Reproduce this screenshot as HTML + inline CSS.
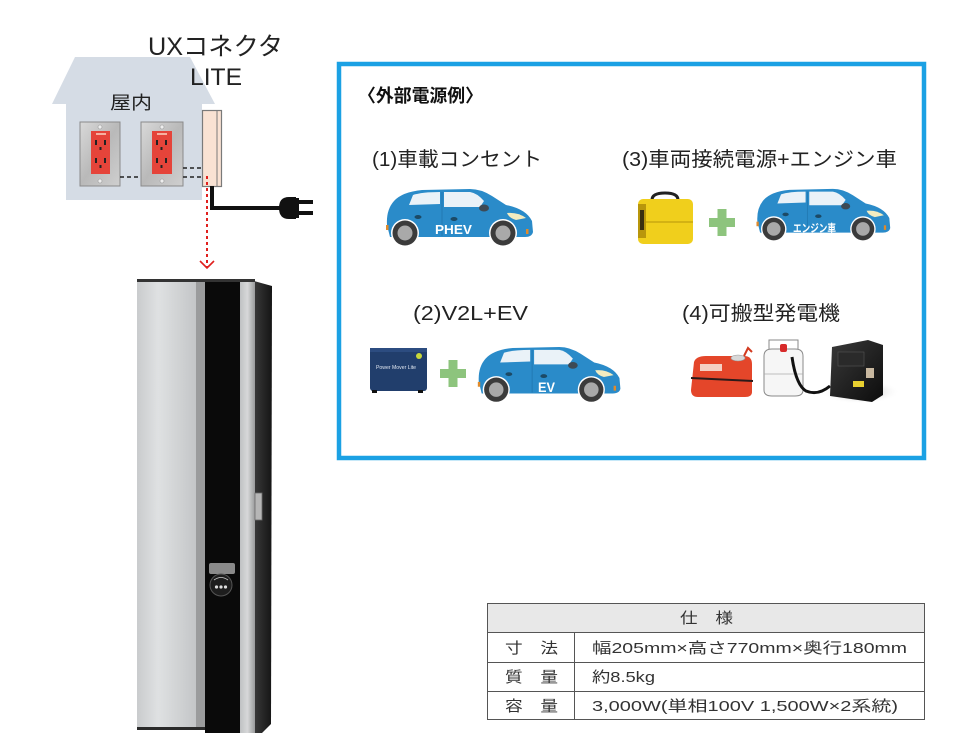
<!DOCTYPE html>
<html><head><meta charset="utf-8"><style>
html,body{margin:0;padding:0;background:#fff;}
svg{display:block;}
text{font-family:"Liberation Sans","Noto Sans CJK JP",sans-serif;}
</style></head><body>
<svg width="980" height="756" viewBox="0 0 980 756" xmlns="http://www.w3.org/2000/svg">
<defs>
<linearGradient id="plate" x1="0" y1="0" x2="1" y2="1"><stop offset="0" stop-color="#d9d9d9"/><stop offset="0.5" stop-color="#b9b9b9"/><stop offset="1" stop-color="#cfcfcf"/></linearGradient>
<linearGradient id="lp" x1="0" y1="0" x2="1" y2="0"><stop offset="0" stop-color="#c9cbcd"/><stop offset="0.35" stop-color="#dfe1e2"/><stop offset="1" stop-color="#c3c5c7"/></linearGradient>
<linearGradient id="rs" x1="0" y1="0" x2="1" y2="0"><stop offset="0" stop-color="#bfc1c3"/><stop offset="0.5" stop-color="#d7d8d9"/><stop offset="1" stop-color="#9a9b9c"/></linearGradient>
<linearGradient id="ds" x1="0" y1="0" x2="1" y2="0"><stop offset="0" stop-color="#3a3a3a"/><stop offset="1" stop-color="#151515"/></linearGradient>
<linearGradient id="gen" x1="0" y1="0" x2="1" y2="1"><stop offset="0" stop-color="#3a3a3a"/><stop offset="1" stop-color="#0c0c0c"/></linearGradient>
<radialGradient id="shadow"><stop offset="0" stop-color="#9a9a9a"/><stop offset="1" stop-color="#ffffff" stop-opacity="0"/></radialGradient>
</defs>

<!-- House -->
<polygon points="75,57 190,57 215,104 202,104 202,200 66,200 66,104 52,104" fill="#d5dce5"/>
<text x="110" y="109" font-size="18" fill="#222" textLength="42" lengthAdjust="spacingAndGlyphs">屋内</text>

<!-- outlet plates -->
<g>
<rect x="80" y="122" width="40" height="64" fill="url(#plate)" stroke="#8a8a8a" stroke-width="1"/>
<circle cx="100" cy="127" r="2" fill="#eee" stroke="#999" stroke-width="0.6"/>
<circle cx="100" cy="181" r="2" fill="#eee" stroke="#999" stroke-width="0.6"/>
<rect x="91" y="131" width="19" height="43" fill="#e5443a"/>
<rect x="95" y="140" width="2" height="5" fill="#222"/><rect x="104" y="140" width="2" height="5" fill="#222"/><rect x="99.5" y="147" width="2" height="3" fill="#222"/>
<rect x="95" y="158" width="2" height="5" fill="#222"/><rect x="104" y="158" width="2" height="5" fill="#222"/><rect x="99.5" y="165" width="2" height="3" fill="#222"/>
<rect x="96" y="133" width="10" height="2" fill="#f7b0a0"/>
</g>
<g>
<rect x="141" y="122" width="42" height="64" fill="url(#plate)" stroke="#8a8a8a" stroke-width="1"/>
<circle cx="162" cy="127" r="2" fill="#eee" stroke="#999" stroke-width="0.6"/>
<circle cx="162" cy="181" r="2" fill="#eee" stroke="#999" stroke-width="0.6"/>
<rect x="152" y="131" width="20" height="43" fill="#e5443a"/>
<rect x="156" y="140" width="2" height="5" fill="#222"/><rect x="165" y="140" width="2" height="5" fill="#222"/><rect x="160.5" y="147" width="2" height="3" fill="#222"/>
<rect x="156" y="158" width="2" height="5" fill="#222"/><rect x="165" y="158" width="2" height="5" fill="#222"/><rect x="160.5" y="165" width="2" height="3" fill="#222"/>
<rect x="157" y="133" width="10" height="2" fill="#f7b0a0"/>
</g>
<!-- dashed wiring -->
<line x1="120" y1="177" x2="141" y2="177" stroke="#222" stroke-width="1.6" stroke-dasharray="4,3"/>
<line x1="183" y1="168" x2="202" y2="168" stroke="#222" stroke-width="1.6" stroke-dasharray="4,3"/>
<line x1="183" y1="177" x2="202" y2="177" stroke="#222" stroke-width="1.6" stroke-dasharray="4,3"/>

<!-- connector box -->
<rect x="202.5" y="110.5" width="19" height="76" fill="#f9e2d3" stroke="#7a7a7a" stroke-width="1.2"/>
<line x1="217" y1="111" x2="217" y2="186" stroke="#7a7a7a" stroke-width="1"/>

<!-- cable & plug -->
<path d="M212 186 L212 208 L284 208" fill="none" stroke="#111" stroke-width="4"/>
<path d="M296 197 L289 197 Q279 197 279 208 Q279 219 289 219 L296 219 Z" fill="#111"/>
<rect x="295" y="198" width="4" height="20" fill="#111"/>
<rect x="298" y="200" width="15" height="4" fill="#111"/>
<rect x="298" y="211" width="15" height="4" fill="#111"/>

<!-- labels -->
<text x="148" y="55" font-size="25" fill="#222" textLength="135" lengthAdjust="spacingAndGlyphs">UXコネクタ</text>
<text x="190" y="85" font-size="24" fill="#222" textLength="52" lengthAdjust="spacingAndGlyphs">LITE</text>

<!-- red dotted arrow -->
<line x1="207" y1="176" x2="207" y2="268" stroke="#e0201e" stroke-width="2" stroke-dasharray="3,3"/>
<polyline points="200,261 207,268 214,261" fill="none" stroke="#e0201e" stroke-width="1.6"/>

<!-- Cabinet -->
<polygon points="254,281 272,286 271,724 262,733 254,733" fill="url(#ds)"/>
<rect x="137" y="282" width="60" height="446" fill="url(#lp)"/>
<rect x="196" y="282" width="9" height="448" fill="#9b9c9d"/>
<rect x="205" y="282" width="35" height="451" fill="#0a0a0a"/>
<rect x="240" y="282" width="15" height="451" fill="url(#rs)"/>
<rect x="137" y="279" width="118" height="3" fill="#333"/>
<rect x="137" y="727" width="68" height="3" fill="#2a2a2a"/>
<rect x="255" y="493" width="7" height="27" fill="#b6b6b6" stroke="#6a6a6a" stroke-width="0.8"/>
<!-- lock -->
<rect x="209" y="563" width="26" height="11" rx="2" fill="#8a8a8a"/>
<circle cx="221" cy="585" r="11" fill="#1e1e1e" stroke="#555" stroke-width="1"/>
<circle cx="216.5" cy="587" r="1.6" fill="#ddd"/><circle cx="221" cy="587" r="1.6" fill="#ddd"/><circle cx="225.5" cy="587" r="1.6" fill="#ddd"/>
<path d="M214 580 Q221 575 228 580" fill="none" stroke="#ccc" stroke-width="0.8"/>

<!-- Blue box -->
<rect x="339" y="64" width="585" height="394" fill="#fff" stroke="#1ba1e4" stroke-width="4.5"/>
<text x="358" y="102" font-size="18" font-weight="bold" fill="#111" textLength="125" lengthAdjust="spacingAndGlyphs">〈外部電源例〉</text>
<text x="372" y="166" font-size="20" fill="#222" textLength="170" lengthAdjust="spacingAndGlyphs">(1)車載コンセント</text>
<text x="622" y="166" font-size="20" fill="#222" textLength="275" lengthAdjust="spacingAndGlyphs">(3)車両接続電源+エンジン車</text>
<text x="413" y="320" font-size="20" fill="#222" textLength="115" lengthAdjust="spacingAndGlyphs">(2)V2L+EV</text>
<text x="682" y="320" font-size="20" fill="#222" textLength="158" lengthAdjust="spacingAndGlyphs">(4)可搬型発電機</text>

<!-- PHEV car -->
<g transform="translate(380,188)">
<path d="M10 49 L7 37 Q6 22 14 13 Q22 4 42 2 L90 1 Q101 1 112 8 L126 17 Q146 21 152 33 L153 44 Q152 49 145 49 Z" fill="#2a8bc9"/>
<path d="M29 17 L33 7 Q42 4 60 4 L60 16 Z" fill="#eaf2f8"/>
<path d="M64 4 L90 4 Q97 5 104 13 L100 19 L64 19 Z" fill="#eaf2f8"/>
<line x1="62" y1="4" x2="62" y2="48" stroke="#227ab3" stroke-width="1"/>
<ellipse cx="104" cy="20" rx="5" ry="3.5" fill="#3d4a55"/>
<ellipse cx="38" cy="29" rx="3.5" ry="2" fill="#1c4a66"/>
<ellipse cx="74" cy="31" rx="3.5" ry="2" fill="#1c4a66"/>
<path d="M127 25 Q138 24 146 30 L136 32 Q129 30 127 25Z" fill="#f3ecc0"/>
<rect x="6" y="37" width="2.5" height="5" fill="#e08a2a"/><rect x="146" y="41" width="2.5" height="5" fill="#e08a2a"/>
<circle cx="25" cy="45" r="14" fill="#fff"/><circle cx="25" cy="45" r="12.5" fill="#3b3b3b"/><circle cx="25" cy="45" r="7.5" fill="#a9a9a9"/>
<circle cx="123" cy="45" r="14" fill="#fff"/><circle cx="123" cy="45" r="12.5" fill="#3b3b3b"/><circle cx="123" cy="45" r="7.5" fill="#a9a9a9"/>
</g>
<text x="435" y="234" font-size="13" font-weight="bold" fill="#fff" textLength="37" lengthAdjust="spacingAndGlyphs">PHEV</text>

<!-- yellow case -->
<path d="M652 200 Q652 193 665 193 Q678 193 678 200" fill="none" stroke="#222" stroke-width="3"/>
<rect x="638" y="199" width="55" height="45" rx="5" fill="#f0cf1c"/>
<rect x="638" y="204" width="8" height="34" fill="#b8960c"/>
<rect x="640" y="210" width="4" height="20" fill="#3a3010"/>
<line x1="646" y1="222" x2="693" y2="222" stroke="#c9a810" stroke-width="1.5"/>
<!-- plus -->
<rect x="709" y="218" width="26" height="9" fill="#8dc47d"/><rect x="717.5" y="209" width="9" height="27" fill="#8dc47d"/>

<!-- engine car -->
<g transform="translate(751,188) scale(0.91)">
<path d="M10 49 L7 37 Q6 22 14 13 Q22 4 42 2 L90 1 Q101 1 112 8 L126 17 Q146 21 152 33 L153 44 Q152 49 145 49 Z" fill="#2a8bc9"/>
<path d="M29 17 L33 7 Q42 4 60 4 L60 16 Z" fill="#eaf2f8"/>
<path d="M64 4 L90 4 Q97 5 104 13 L100 19 L64 19 Z" fill="#eaf2f8"/>
<line x1="62" y1="4" x2="62" y2="48" stroke="#227ab3" stroke-width="1"/>
<ellipse cx="104" cy="20" rx="5" ry="3.5" fill="#3d4a55"/>
<ellipse cx="38" cy="29" rx="3.5" ry="2" fill="#1c4a66"/>
<ellipse cx="74" cy="31" rx="3.5" ry="2" fill="#1c4a66"/>
<path d="M127 25 Q138 24 146 30 L136 32 Q129 30 127 25Z" fill="#f3ecc0"/>
<rect x="6" y="37" width="2.5" height="5" fill="#e08a2a"/><rect x="146" y="41" width="2.5" height="5" fill="#e08a2a"/>
<circle cx="25" cy="45" r="14" fill="#fff"/><circle cx="25" cy="45" r="12.5" fill="#3b3b3b"/><circle cx="25" cy="45" r="7.5" fill="#a9a9a9"/>
<circle cx="123" cy="45" r="14" fill="#fff"/><circle cx="123" cy="45" r="12.5" fill="#3b3b3b"/><circle cx="123" cy="45" r="7.5" fill="#a9a9a9"/>
</g>
<text x="793" y="232" font-size="11" font-weight="bold" fill="#fff" textLength="43" lengthAdjust="spacingAndGlyphs">エンジン車</text>

<!-- power mover box -->
<rect x="370" y="348" width="57" height="43" rx="3" fill="#213e6c"/>
<rect x="370" y="348" width="57" height="4" fill="#2c4c80"/>
<circle cx="419" cy="356" r="3" fill="#c8d83a"/>
<text x="376" y="369" font-size="5" fill="#dfe6f0" textLength="40" lengthAdjust="spacingAndGlyphs">Power Mover Lite</text>
<rect x="372" y="390" width="5" height="3" fill="#111"/><rect x="418" y="390" width="5" height="3" fill="#111"/>
<!-- plus -->
<rect x="440" y="369" width="26" height="9" fill="#8dc47d"/><rect x="448.5" y="360" width="9" height="27" fill="#8dc47d"/>

<!-- EV car -->
<g transform="translate(472,346) scale(0.97)">
<path d="M10 49 L7 37 Q6 22 14 13 Q22 4 42 2 L90 1 Q101 1 112 8 L126 17 Q146 21 152 33 L153 44 Q152 49 145 49 Z" fill="#2a8bc9"/>
<path d="M29 17 L33 7 Q42 4 60 4 L60 16 Z" fill="#eaf2f8"/>
<path d="M64 4 L90 4 Q97 5 104 13 L100 19 L64 19 Z" fill="#eaf2f8"/>
<line x1="62" y1="4" x2="62" y2="48" stroke="#227ab3" stroke-width="1"/>
<ellipse cx="104" cy="20" rx="5" ry="3.5" fill="#3d4a55"/>
<ellipse cx="38" cy="29" rx="3.5" ry="2" fill="#1c4a66"/>
<ellipse cx="74" cy="31" rx="3.5" ry="2" fill="#1c4a66"/>
<path d="M127 25 Q138 24 146 30 L136 32 Q129 30 127 25Z" fill="#f3ecc0"/>
<rect x="6" y="37" width="2.5" height="5" fill="#e08a2a"/><rect x="146" y="41" width="2.5" height="5" fill="#e08a2a"/>
<circle cx="25" cy="45" r="14" fill="#fff"/><circle cx="25" cy="45" r="12.5" fill="#3b3b3b"/><circle cx="25" cy="45" r="7.5" fill="#a9a9a9"/>
<circle cx="123" cy="45" r="14" fill="#fff"/><circle cx="123" cy="45" r="12.5" fill="#3b3b3b"/><circle cx="123" cy="45" r="7.5" fill="#a9a9a9"/>
</g>
<text x="538" y="392" font-size="14" font-weight="bold" fill="#fff" textLength="17" lengthAdjust="spacingAndGlyphs">EV</text>

<!-- generator set -->
<ellipse cx="860" cy="392" rx="40" ry="12" fill="url(#shadow)"/>
<path d="M694 362 Q696 356 706 356 L744 356 Q752 356 752 364 L752 392 Q752 397 745 397 L698 397 Q691 397 691 390 Z" fill="#e4462a"/>
<rect x="700" y="364" width="22" height="7" fill="#f4d0c4"/>
<ellipse cx="738" cy="358" rx="7" ry="3" fill="#d8d8d8" stroke="#999" stroke-width="0.6"/>
<line x1="691" y1="378" x2="753" y2="381" stroke="#2a1a1a" stroke-width="2"/>
<path d="M744 356 L748 348 L752 352" fill="none" stroke="#d23a20" stroke-width="2"/>
<!-- gas cylinder -->
<path d="M769 340 L798 340 L798 352 L769 352 Z" fill="#fff" stroke="#888" stroke-width="1"/>
<path d="M764 356 Q764 349 772 349 L795 349 Q803 349 803 356 L803 390 Q803 396 795 396 L772 396 Q764 396 764 390 Z" fill="#f6f6f6" stroke="#8a8a8a" stroke-width="1"/>
<line x1="764" y1="374" x2="803" y2="374" stroke="#aaa" stroke-width="0.8"/>
<rect x="780" y="344" width="7" height="8" rx="2" fill="#d72a2a"/>
<path d="M792 357 Q796 385 806 391 Q818 396 830 386" fill="none" stroke="#111" stroke-width="3"/>
<!-- generator -->
<path d="M832 347 L868 340 L883 345 L883 395 L872 402 L830 396 Z" fill="url(#gen)"/>
<rect x="838" y="352" width="26" height="14" fill="#2a2a2a" stroke="#555" stroke-width="0.6"/>
<rect x="853" y="381" width="11" height="6" fill="#e8d030"/>
<rect x="866" y="368" width="8" height="10" fill="#c8b8a0"/>

<!-- spec table -->
<rect x="487.5" y="603.5" width="437" height="116" fill="#fff" stroke="#555" stroke-width="1"/>
<rect x="488" y="604" width="436" height="28" fill="#e8e8e8"/>
<line x1="487" y1="632.5" x2="925" y2="632.5" stroke="#555" stroke-width="1"/>
<line x1="487" y1="662.5" x2="925" y2="662.5" stroke="#555" stroke-width="1"/>
<line x1="487" y1="691.5" x2="925" y2="691.5" stroke="#555" stroke-width="1"/>
<line x1="574.5" y1="632" x2="574.5" y2="720" stroke="#555" stroke-width="1"/>
<g font-size="15" fill="#333">
<text x="680" y="623" textLength="53" lengthAdjust="spacingAndGlyphs">仕　様</text>
<text x="505" y="653" textLength="53" lengthAdjust="spacingAndGlyphs">寸　法</text>
<text x="505" y="682" textLength="53" lengthAdjust="spacingAndGlyphs">質　量</text>
<text x="505" y="711" textLength="53" lengthAdjust="spacingAndGlyphs">容　量</text>
<text x="592" y="653" textLength="315" lengthAdjust="spacingAndGlyphs">幅205mm×高さ770mm×奥行180mm</text>
<text x="592" y="682" textLength="63" lengthAdjust="spacingAndGlyphs">約8.5kg</text>
<text x="592" y="711" textLength="306" lengthAdjust="spacingAndGlyphs">3,000W(単相100V 1,500W×2系統)</text>
</g>
</svg>
</body></html>
